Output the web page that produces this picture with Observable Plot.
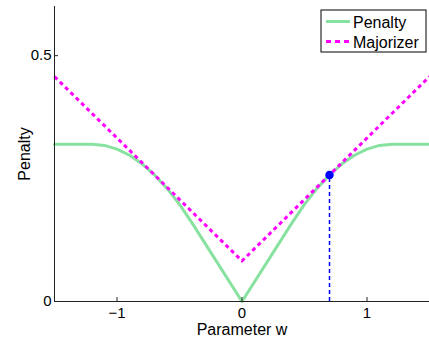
<!DOCTYPE html>
<html>
<head>
<meta charset="utf-8">
<script src="https://cdn.jsdelivr.net/npm/d3@7"></script>
<script src="https://cdn.jsdelivr.net/npm/@observablehq/plot@0.6"></script>
<style>
  html, body { margin: 0; padding: 0; background: #fff; }
  #chart { position: relative; width: 429px; height: 338px; }
  svg { font-family: "Liberation Sans", Arial, Helvetica, sans-serif; }
</style>
</head>
<body>
<div id="chart"></div>
<script>
// Penalty curve samples
const penaltyW = [-1.5, -1.2, -1.1, -1.0, -0.9, -0.8, -0.7, -0.6, -0.5, -0.4, 0, 0.4, 0.5, 0.6, 0.7, 0.8, 0.9, 1.0, 1.1, 1.2, 1.5];
const penaltyV = [0.32, 0.32, 0.3175, 0.31, 0.2975, 0.28, 0.2575, 0.23, 0.1975, 0.16, 0, 0.16, 0.1975, 0.23, 0.2575, 0.28, 0.2975, 0.31, 0.3175, 0.32, 0.32];
// Majorizer samples
const majorW = [-1.5, 0, 1.5];
const majorV = [0.4575, 0.0825, 0.4575];
// Touch point
const touchW = [0.7];
const touchV = [0.2575];
// Ticks
const xTicks = [-1, 0, 1];
const yTicks = [0, 0.5];
const seriesNames = ["Penalty", "Majorizer"];

const penalty = penaltyW.map((w, i) => ({w, v: penaltyV[i]}));
const major = majorW.map((w, i) => ({w, v: majorV[i]}));
const touch = touchW.map((w, i) => ({w, v: touchV[i]}));

const green = "#88e29f";
const magenta = "#ff00ff";
const blue = "#0000ff";

const plot = Plot.plot({
  width: 429,
  height: 338,
  marginLeft: 54,
  marginRight: 0,
  marginTop: 6,
  marginBottom: 37,
  style: {fontFamily: '"Liberation Sans", Arial, Helvetica, sans-serif', fontSize: "15px", color: "#000", background: "#fff", overflow: "visible"},
  x: {domain: [-1.5, 1.5]},
  y: {domain: [0, 0.6]},
  marks: [
    Plot.line(penalty, {x: "w", y: "v", stroke: green, strokeWidth: 3, strokeLinejoin: "round"}),
    Plot.line(major, {x: "w", y: "v", stroke: magenta, strokeWidth: 3, strokeLinecap: "butt", strokeDasharray: "4,3.5"}),
    Plot.ruleX(touch, {x: "w", y1: 0, y2: "v", stroke: blue, strokeWidth: 1.5, strokeLinecap: "butt", strokeDasharray: "4,3"}),
    Plot.dot(touch, {x: "w", y: "v", r: 3.5, fill: blue, stroke: blue}),
    Plot.ruleX([-1.5], {stroke: "#222", strokeWidth: 1}),
    Plot.ruleY([0], {stroke: "#222", strokeWidth: 1}),
    Plot.axisX({ticks: xTicks, tickSize: -4, tickPadding: 10, stroke: "#222", fontSize: 15, tickFormat: d => d < 0 ? "\u2212" + Math.abs(d) : String(d), label: null}),
    Plot.axisX({ticks: [], label: "Parameter w", labelAnchor: "center", labelArrow: "none", labelOffset: 33, fontSize: 16}),
    Plot.axisY({ticks: yTicks, tickSize: -4, tickPadding: 7, stroke: "#222", fontSize: 15, tickFormat: d => String(d), label: null}),
    Plot.axisY({ticks: [], label: "Penalty", labelAnchor: "center", labelArrow: "none", labelOffset: 36, fontSize: 16})
  ]
});

document.getElementById("chart").appendChild(plot);

// Legend box
const svg = d3.select(plot);
const lg = svg.append("g").attr("font-family", '"Liberation Sans", Arial, Helvetica, sans-serif')
  .attr("font-size", 16).attr("text-anchor", "start");
lg.append("rect").attr("x", 321).attr("y", 10).attr("width", 105).attr("height", 42)
  .attr("fill", "#fff").attr("stroke", "#000").attr("stroke-width", 1);
const styles = [
  {stroke: green, dash: null},
  {stroke: magenta, dash: "5,4"}
];
seriesNames.forEach((name, i) => {
  const y = 21.5 + i * 20;
  lg.append("line").attr("x1", 326).attr("x2", 350).attr("y1", y).attr("y2", y)
    .attr("stroke", styles[i].stroke).attr("stroke-width", 3).attr("stroke-linecap", "butt")
    .attr("stroke-dasharray", styles[i].dash);
  lg.append("text").attr("x", 353).attr("y", y + 6.5).attr("fill", "#000").attr("text-anchor", "start").text(name);
});
</script>
</body>
</html>
